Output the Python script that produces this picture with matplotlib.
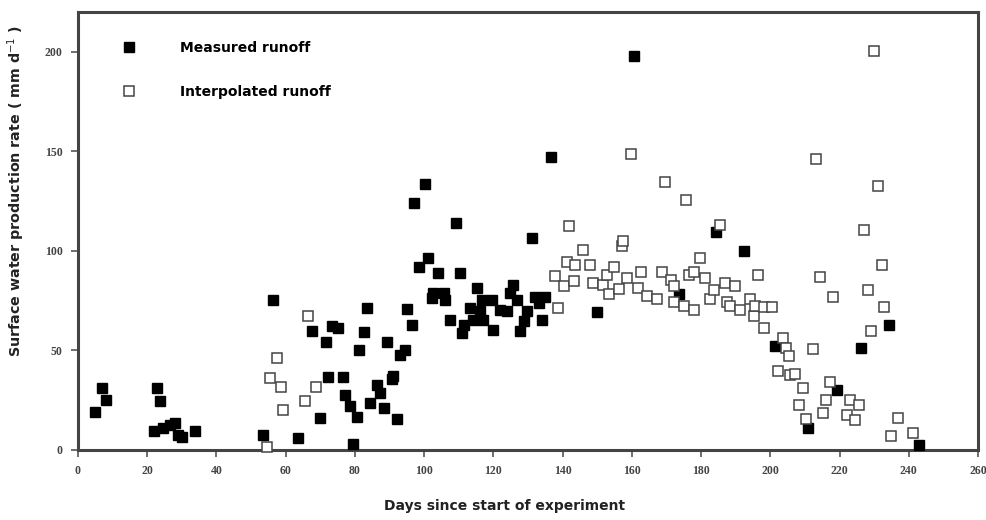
import matplotlib.pyplot as plt

# measured runoff (filled squares)
meas_day = [4.9, 7, 8.1, 22, 22.9, 23.7, 24.7, 26.6, 28, 29, 30, 33.8,
            53.6, 56.4, 63.7, 67.5, 69.9, 71.7, 72.3, 73.3, 75.2, 76.5, 77.2, 78.6,
            79.6, 80.5, 81.3, 82.5, 83.4, 84.4, 86.3, 87.3, 88.4, 89.2, 90.7, 91.1,
            92.3, 93.1, 94.5, 95, 96.4, 97.1, 98.5, 100.3, 101.2, 102.2, 102.7, 104.1,
            105.6, 106.1, 107.5, 109.2, 110.4, 110.9, 111.4, 113.3, 114.2, 115.2, 116.2,
            116.7, 117.1, 119.5, 120, 122, 123.9, 124.9, 125.8, 126.8, 127.7, 128.7,
            129.7, 131.1, 132.1, 133.1, 134, 135, 136.7, 149.9, 160.7, 173.5, 184.3,
            192.3, 201.4, 210.8, 219.1, 226.2, 234.2, 242.9]
meas_val = [19.2, 31.3, 25, 9.2, 31.3, 24.6, 10.9, 12.6, 13.4, 7.5, 6.2, 9.2,
            7.5, 75.4, 5.8, 59.6, 15.9, 54.1, 36.5, 62.1, 61.1, 36.5, 27.6, 21.8,
            3, 16.4, 50.3, 59.2, 71.2, 23.5, 32.7, 28.5, 21, 54, 35.5, 37,
            15.4, 47.7, 50.3, 70.7, 62.8, 124, 92, 133.7, 96.3, 76.2, 78.8, 88.8,
            78.8, 75.4, 65.3, 114.2, 88.8, 58.6, 62.8, 71.2, 65.3, 81.2, 69.7,
            75.4, 65.3, 75.4, 60.3, 70.4, 69.7, 78.8, 82.9, 75.4, 59.6, 64.7,
            69.7, 106.4, 77, 73.7, 65.3, 77, 147, 69.2, 198, 78.2, 109.4,
            99.7, 52.3, 10.9, 29.8, 51.1, 62.8, 2.5]

# interpolated runoff (open squares)
interp_day = [54.5, 55.5, 57.4, 58.6, 59.3, 65.6, 66.6, 68.8,
              137.9, 138.8, 140.3, 141.2, 141.8, 143.2, 143.6, 145.9, 148, 148.9,
              151.8, 152.8, 153.3, 154.7, 156.2, 157.1, 157.4, 158.6, 159.7, 161.9,
              162.6, 164.4, 167.2, 168.7, 169.7, 171.3, 172.1, 172.1, 175, 175.5,
              176.6, 177.8, 177.8, 179.6, 181.2, 182.7, 183.6, 185.4, 187, 187.5,
              188.4, 189.9, 191.3, 194.2, 195.2, 195.7, 196.3, 198.1, 198.1, 200.5,
              202.1, 203.7, 204.6, 205.3, 205.8, 207.2, 208.2, 209.4, 210.4, 212.3,
              213.3, 214.3, 215.1, 216.2, 217.1, 218.1, 222.2, 222.9, 224.3, 225.5,
              227, 228.1, 229.1, 229.9, 231.1, 232.1, 232.7, 234.9, 236.8, 241.1]
interp_val = [1.6, 36, 46, 31.5, 20.1, 24.3, 67, 31.8,
              87.1, 71.2, 82.1, 94.6, 112.3, 84.6, 93, 100.3, 93, 83.8,
              82.9, 87.9, 78.2, 92.1, 80.8, 102.2, 104.7, 86.3, 148.7, 81.2,
              89.1, 77.4, 75.7, 89.1, 134.7, 85.4, 82.1, 74.2, 72.2, 125.3,
              87.9, 89.1, 70.4, 96.3, 86.3, 75.7, 80.4, 113, 83.8, 74.5,
              72.4, 82.1, 70.4, 75.7, 67.2, 72.2, 87.9, 71.9, 61.1, 71.9,
              39.8, 56.1, 51.1, 46.9, 37.7, 38.2, 22.6, 31, 15.4, 50.6,
              146, 86.6, 18.4, 25.1, 34.3, 77, 17.6, 25.1, 15.1, 22.6,
              110.2, 80.4, 59.5, 200.2, 132.3, 93, 71.7, 6.7, 15.9, 8.4]

xticks = list(range(0, 261, 20))
yticks = [0, 50, 100, 150, 200]

fig = plt.figure(figsize=(9.86, 5.2), dpi=100)
ax = fig.add_axes([0.079, 0.135, 0.913, 0.842])

ax.plot(meas_day, meas_val, linestyle='none', marker='s', markersize=7,
        markerfacecolor='black', markeredgecolor='black', label='Measured runoff',
        clip_on=False, zorder=3)
ax.plot(interp_day, interp_val, linestyle='none', marker='s', markersize=6.8,
        markerfacecolor='white', markeredgecolor='#444444', markeredgewidth=1.1,
        label='Interpolated runoff', clip_on=False, zorder=3)

ax.set_xlim(0, 260)
ax.set_ylim(0, 220)
ax.set_xticks(xticks)
ax.set_yticks(yticks)
for lab in ax.get_xticklabels() + ax.get_yticklabels():
    lab.set_fontfamily('Liberation Serif')
    lab.set_fontsize(8.5)
    lab.set_fontweight('bold')
    lab.set_color('#444444')
ax.tick_params(direction='out', length=5, width=1.2, color='#555555', pad=6)

for s in ax.spines.values():
    s.set_linewidth(2.2)
    s.set_color('#444444')

ax.set_xlabel('Days since start of experiment', fontsize=10, fontweight='bold',
              color='#222222')
ax.set_ylabel('Surface water production rate ( mm d$^{-1}$ )', fontsize=10.3,
              fontweight='bold', color='#222222')
ax.xaxis.set_label_coords(0.474, -0.113)
ax.yaxis.set_label_coords(-0.056, 0.59)

ax.legend(loc='upper left', bbox_to_anchor=(0.035, 0.962), frameon=False,
          handlelength=1, handletextpad=3.2, labelspacing=2.15,
          prop={'weight': 'bold', 'size': 10})

fig.savefig('out.png', dpi=100)
